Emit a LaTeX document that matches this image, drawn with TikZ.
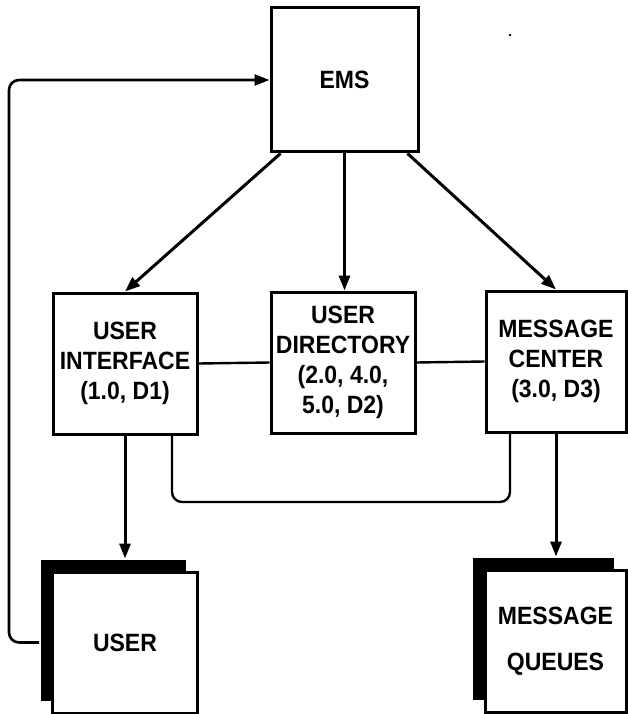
\documentclass[tikz,border=0pt]{standalone}
\usepackage{fontspec}
\setmainfont[FakeStretch=0.92]{Liberation Sans}
\usetikzlibrary{arrows.meta,shadows}
\begin{document}
\begin{tikzpicture}[x=1pt,y=-1pt,
  box/.style={draw, line width=3pt, fill=white, rectangle, inner sep=0pt,
    align=center, font=\fontsize{25}{30}\selectfont\bfseries},
  docbox/.style={box, drop shadow={shadow xshift=-12pt, shadow yshift=12pt,
    fill=black, opacity=1}},
  arr/.style={line width=3pt, -{Triangle[length=15pt,width=11pt]}},
  link/.style={line width=2.4pt}
]
\useasboundingbox (0,0) rectangle (627,714);

% top-level system
\node[box, minimum width=147pt, minimum height=144pt] (ems) at (344.5,80) {EMS};

% subsystems
\node[box, minimum width=144pt, minimum height=141pt] (ui) at (125,363.5)
  {USER\\INTERFACE\\(1.0, D1)};
\node[box, minimum width=144pt, minimum height=141pt] (ud) at (343,362.5)
  {USER\\DIRECTORY\\(2.0, 4.0,\\5.0, D2)};
\node[box, minimum width=140pt, minimum height=141pt] (mc) at (556,361.5)
  {MESSAGE\\CENTER\\(3.0, D3)};

% external documents
\node[docbox, minimum width=145pt, minimum height=141pt] (user) at (125,642.5) {USER};
\node[docbox, minimum width=141pt, minimum height=142pt] (mq) at (555.5,641)
  {MESSAGE\\[16pt]QUEUES};

% stray speck
\fill (510,35) circle (1.3pt);

% helper points
\coordinate (usertop) at ([yshift=12pt]user.north);
\coordinate (mqtop) at ([yshift=12pt]mq.north);
\coordinate (ubot) at (340,502);
\coordinate (fbx) at (9,0);

% EMS to subsystems
\draw[arr] ([xshift=11pt]ems.south west) -- (ui.north);
\draw[arr] (ems.south) -- (ems.south |- ud.north);
\draw[arr] ([xshift=-12pt]ems.south east) -- (mc.north);

% links between subsystems
\draw[link] (ui.east) -- (ud.west);
\draw[link] (ud.east) -- (mc.west);
\draw[link, rounded corners=10pt] ([xshift=47pt]ui.south) |- (ubot)
  -| ([xshift=-46pt]mc.south);

% subsystems to documents
\draw[arr] (ui.south) -- (ui.south |- usertop);
\draw[arr] (mc.south) -- (mc.south |- mqtop);

% feedback from user to EMS
\draw[arr, line width=2.6pt, rounded corners=10pt]
  ([xshift=-12pt]user.west) -| (fbx |- ems.west) -- (ems.west);
\end{tikzpicture}
\end{document}
